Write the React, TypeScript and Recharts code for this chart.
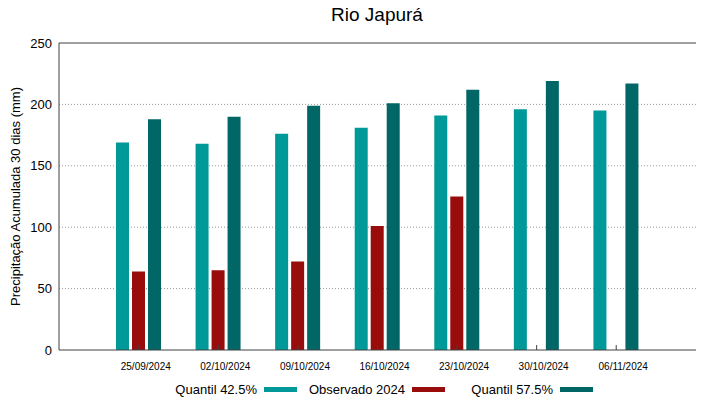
import { Bar, BarChart, CartesianGrid, ReferenceLine, XAxis, YAxis } from "recharts";

const dates = [
  "25/09/2024",
  "02/10/2024",
  "09/10/2024",
  "16/10/2024",
  "23/10/2024",
  "30/10/2024",
  "06/11/2024",
];
const quantil425 = [169, 168, 176, 181, 191, 196, 195];
const observado2024 = [64, 65, 72, 101, 125, null, null];
const quantil575 = [188, 190, 199, 201, 212, 219, 217];
const yTicks = [0, 50, 100, 150, 200, 250];
const gridValues = [50, 100, 150, 200];

const series = [
  { key: "q425", name: "Quantil 42.5%", color: "#009999" },
  { key: "obs", name: "Observado 2024", color: "#990c0c" },
  { key: "q575", name: "Quantil 57.5%", color: "#006666" },
];

const data = dates.map((date, i) => ({
  date,
  q425: quantil425[i],
  obs: observado2024[i],
  q575: quantil575[i],
}));

const FONT = "'Liberation Sans', Arial, sans-serif";
const FRAME = "#404040";

function DateTick({ x, y, payload }: any) {
  return (
    <g>
      <line x1={x} x2={x} y1={y} y2={y - 5} stroke={FRAME} />
      <text x={x + 7} y={y + 20} textAnchor="middle" fontSize={10} fill="#000" fontFamily={FONT}>
        {payload.value}
      </text>
    </g>
  );
}

export default function App() {
  return (
    <div
      style={{
        position: "absolute",
        top: 0,
        left: 0,
        width: 719,
        height: 399,
        fontFamily: FONT,
        background: "#fff",
      }}
    >
      <div
        style={{
          position: "absolute",
          top: 4,
          left: 0,
          width: 754,
          textAlign: "center",
          fontSize: 19,
          color: "#000",
        }}
      >
        Rio Japurá
      </div>
      <BarChart
        width={719}
        height={399}
        data={data}
        margin={{ top: 43, right: 23, left: 0, bottom: 0 }}
        barSize={13}
        barGap={3}
      >
        <CartesianGrid
          vertical={false}
          horizontalValues={gridValues}
          stroke="#999"
          strokeDasharray="1 2"
        />
        <XAxis
          dataKey="date"
          padding={{ left: 40, right: 40 }}
          height={49}
          axisLine={{ stroke: FRAME }}
          tickLine={false}
          tickSize={0}
          tickMargin={0}
          interval={0}
          tick={<DateTick />}
        />
        <YAxis
          domain={[0, 250]}
          ticks={yTicks}
          width={59}
          axisLine={{ stroke: FRAME }}
          tickLine={false}
          tickSize={0}
          tickMargin={7}
          tick={{ fontSize: 13, fill: "#000", fontFamily: FONT }}
          label={{
            value: "Precipitação Acumulada 30 dias (mm)",
            angle: -90,
            position: "insideLeft",
            dx: 10,
            dy: 0,
            style: { textAnchor: "middle", fontSize: 13, fill: "#000", fontFamily: FONT },
          }}
        />
        <YAxis
          yAxisId="right"
          orientation="right"
          domain={[0, 250]}
          ticks={yTicks}
          width={0}
          mirror
          tickSize={5}
          tickFormatter={() => ""}
          axisLine={{ stroke: FRAME }}
          tickLine={{ stroke: FRAME }}
        />
        <ReferenceLine y={250} stroke={FRAME} />
        {series.map((s) => (
          <Bar key={s.key} dataKey={s.key} name={s.name} fill={s.color} isAnimationActive={false} />
        ))}
      </BarChart>
      <div style={{ position: "absolute", top: 382, left: 152, display: "flex", fontSize: 13, color: "#000" }}>
        {series.map((s) => (
          <div key={s.key} style={{ width: 148, display: "flex", alignItems: "center" }}>
            <span style={{ width: 105, textAlign: "right", lineHeight: "15px" }}>{s.name}</span>
            <span style={{ width: 33, height: 5, marginLeft: 7, background: s.color }} />
          </div>
        ))}
      </div>
    </div>
  );
}
